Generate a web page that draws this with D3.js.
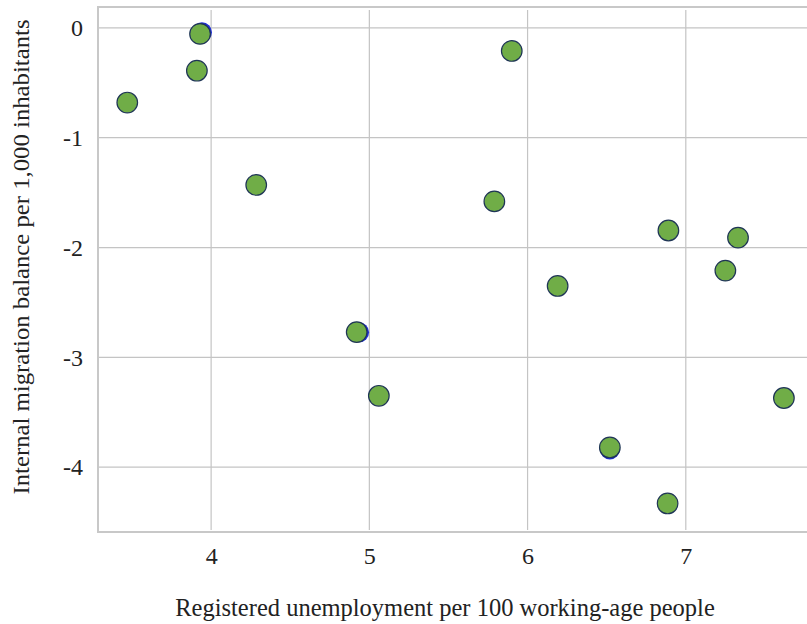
<!DOCTYPE html>
<html>
<head>
<meta charset="utf-8">
<script src="https://cdn.jsdelivr.net/npm/d3@7"></script>
<style>
  body { margin: 0; background: #fff; }
  text { font-family: "Liberation Serif", "Times New Roman", serif; fill: #222; }
</style>
</head>
<body>
<div id="chart"></div>
<script>
// data
var unemployment = [3.47, 3.93, 3.91, 4.285, 4.92, 5.06, 5.90, 5.79, 6.19, 6.52, 6.89, 7.25, 7.33, 6.885, 7.62];
var migration    = [-0.68, -0.055, -0.39, -1.43, -2.77, -3.35, -0.21, -1.58, -2.35, -3.82, -1.845, -2.21, -1.91, -4.33, -3.37];

// second series, mostly hidden behind the green points
var unemploymentB = [3.942, 4.935, 6.52];
var migrationB    = [-0.04, -2.772, -3.838];

var xTicks = [4, 5, 6, 7];
var yTicks = [0, -1, -2, -3, -4];

var W = 807, H = 624;
var margin = {top: 7, right: 0, bottom: 92, left: 98};
var width = W - margin.left - margin.right,
    height = H - margin.top - margin.bottom;

var x = d3.scaleLinear().domain([3.285, 7.766]).range([0, width]);
var y = d3.scaleLinear().domain([0.19, -4.59]).range([0, height]);

var svg = d3.select("#chart").append("svg")
  .attr("width", W)
  .attr("height", H);

var g = svg.append("g")
  .attr("transform", "translate(" + margin.left + "," + margin.top + ")");

//grid lines
g.append("g").selectAll("line")
  .data(xTicks).enter().append("line")
    .attr("x1", function(d) { return x(d); })
    .attr("x2", function(d) { return x(d); })
    .attr("y1", 3).attr("y2", height - 2)
    .attr("stroke", "#c4c4c4").attr("stroke-width", 1.2);

g.append("g").selectAll("line")
  .data(yTicks).enter().append("line")
    .attr("y1", function(d) { return y(d); })
    .attr("y2", function(d) { return y(d); })
    .attr("x1", 1).attr("x2", width)
    .attr("stroke", "#c4c4c4").attr("stroke-width", 1.2);

//frame (left, top, bottom)
g.append("path")
  .attr("d", "M" + width + ",0H0V" + height + "H" + width)
  .attr("fill", "none")
  .attr("stroke", "#c8c8c8")
  .attr("stroke-width", 2);

//axes without domain lines
var xAxis = g.append("g")
  .attr("transform", "translate(0," + height + ")")
  .call(d3.axisBottom(x).tickValues(xTicks).tickSize(0).tickPadding(15).tickFormat(d3.format("d")));
xAxis.select(".domain").remove();
xAxis.selectAll("text").style("font-size", "24px").attr("fill", "#222");

var yAxis = g.append("g")
  .call(d3.axisLeft(y).tickValues(yTicks).tickSize(0).tickPadding(15).tickFormat(function(d) { return d === 0 ? "0" : "-" + Math.abs(d); }));
yAxis.select(".domain").remove();
yAxis.selectAll("text").style("font-size", "24px").attr("fill", "#222");

//points
g.append("g").selectAll("circle")
  .data(unemploymentB).enter().append("circle")
    .attr("cx", function(d) { return x(d); })
    .attr("cy", function(d, i) { return y(migrationB[i]); })
    .attr("r", 10)
    .attr("fill", "#1f2fd6");

g.append("g").selectAll("circle")
  .data(unemployment).enter().append("circle")
    .attr("cx", function(d) { return x(d); })
    .attr("cy", function(d, i) { return y(migration[i]); })
    .attr("r", 10.3)
    .attr("fill", "#70ad47")
    .attr("stroke", "#1f3556")
    .attr("stroke-width", 1.2);

//axis titles
svg.append("text")
  .attr("x", 445).attr("y", 616)
  .attr("text-anchor", "middle")
  .style("font-size", "24.5px")
  .text("Registered unemployment per 100 working-age people");

svg.append("text")
  .attr("transform", "translate(29,257) rotate(-90)")
  .attr("text-anchor", "middle")
  .attr("textLength", 475)
  .attr("lengthAdjust", "spacingAndGlyphs")
  .style("font-size", "23px")
  .text("Internal migration balance per 1,000 inhabitants");
</script>
</body>
</html>
